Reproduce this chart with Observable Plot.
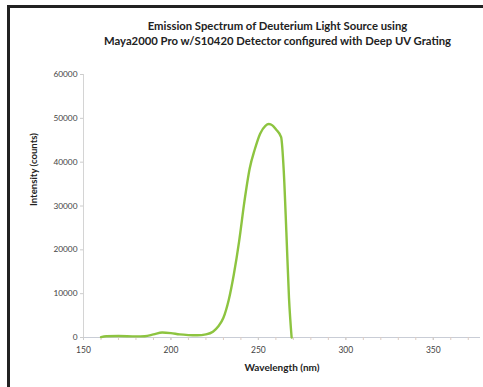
<!DOCTYPE html>
<html>
<head>
<meta charset="utf-8">
<script src="https://cdn.jsdelivr.net/npm/d3@7"></script>
<script src="https://cdn.jsdelivr.net/npm/@observablehq/plot@0.6"></script>
<style>
  html, body { margin: 0; padding: 0; background: #fff; }
  #wrap { position: relative; width: 483px; height: 387px; overflow: hidden; font-family: Lato, "Open Sans", sans-serif; }
  #btop { position: absolute; left: 7px; top: 5px; width: 480px; height: 3px; background: #222; }
  #bleft { position: absolute; left: 7px; top: 5px; width: 3px; height: 390px; background: #222; }
  #title { position: absolute; left: 70px; width: 415px; top: 19px; text-align: center; font-weight: bold; font-size: 11.3px; line-height: 14.5px; color: #222; }
  #chart { position: absolute; left: 0; top: 0; }
</style>
</head>
<body>
<div id="wrap">
  <div id="chart"></div>
  <div id="btop"></div>
  <div id="bleft"></div>
  <div id="title">Emission Spectrum of Deuterium Light Source using<br>Maya2000 Pro w/S10420 Detector configured with Deep UV Grating</div>
</div>
<script>
const wavelength = [160, 163, 170, 180, 185, 190, 195, 200, 205, 210, 215, 220, 224, 227, 230, 233, 236, 239, 242, 245, 248, 251, 254, 256, 258, 260, 263, 264.5, 266, 267.5, 269];
const intensity  = [100, 300, 350, 250, 300, 700, 1150, 1000, 700, 550, 500, 700, 1300, 2500, 4500, 8500, 14500, 22000, 31000, 38500, 43000, 46500, 48300, 48700, 48400, 47500, 45700, 38000, 24000, 9000, 0];
const xTicks = [150, 200, 250, 300, 350];
const xMinor = d3.range(150, 380, 10);
const yTicks = [0, 10000, 20000, 30000, 40000, 50000, 60000];

const data = wavelength.map((w, i) => ({w, v: intensity[i]}));

const plot = Plot.plot({
  width: 483,
  height: 387,
  marginLeft: 83,
  marginRight: 3,
  marginTop: 74,
  marginBottom: 50,
  style: {fontFamily: "Lato, 'Open Sans', sans-serif", background: "transparent"},
  x: {type: "linear", domain: [150, 377], label: null},
  y: {type: "linear", domain: [0, 60000], label: null},
  marks: [
    Plot.ruleY([0], {stroke: "#c9cdd6", strokeWidth: 1}),
    Plot.ruleX([150], {stroke: "#d4d4d4", strokeWidth: 1}),
    Plot.axisX({ticks: xMinor, tickSize: 3, stroke: "#dcccc4", text: null, label: null}),
    Plot.axisX({ticks: xTicks, tickSize: 3, stroke: "#ccc", tickPadding: 6, fontSize: 8.5, fill: "#444", label: null}),
    Plot.axisY({ticks: yTicks, tickSize: 3, stroke: "#ccc", tickPadding: 3, fontSize: 8.3, fill: "#444", tickFormat: d => String(d), label: null}),
    Plot.line(data, {x: "w", y: "v", stroke: "#8DC440", strokeWidth: 2.4, curve: "monotone-x"}),
    Plot.text(["Wavelength (nm)"], {frameAnchor: "bottom", dy: 33, fontWeight: "bold", fontSize: 10, fill: "#222"}),
    Plot.text(["Intensity (counts)"], {frameAnchor: "left", dx: -50, rotate: -90, fontWeight: "bold", fontSize: 9.6, fill: "#222"})
  ]
});
document.getElementById("chart").appendChild(plot);
</script>
</body>
</html>
